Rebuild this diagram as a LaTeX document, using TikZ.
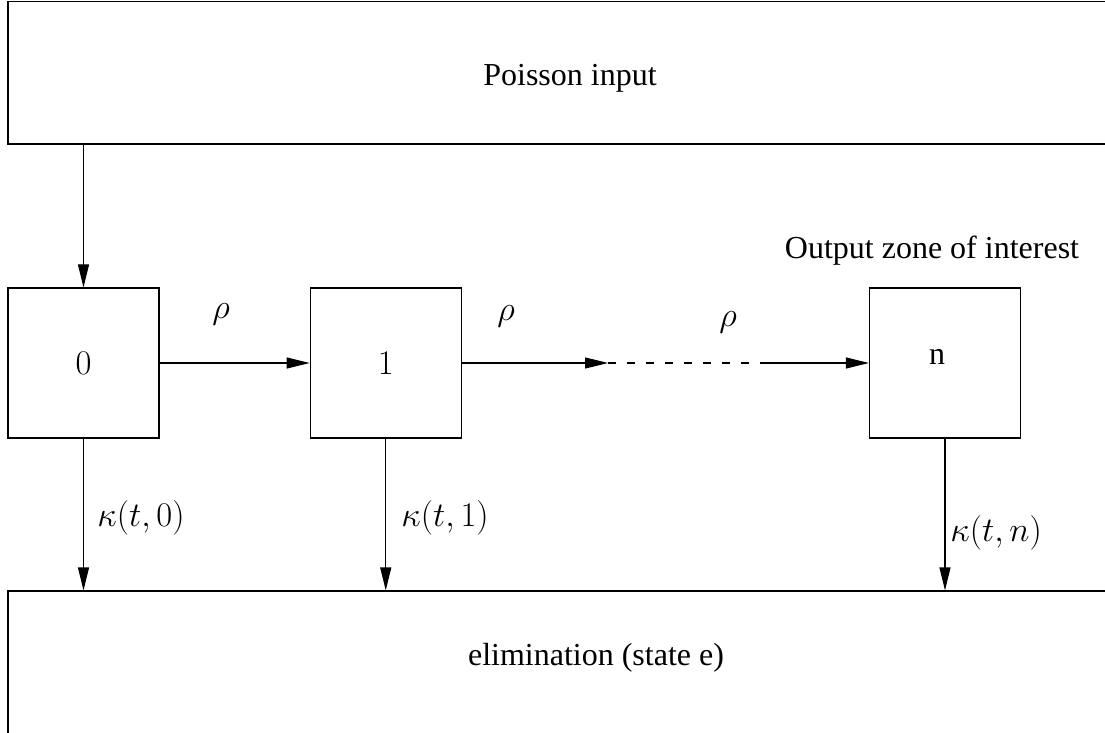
\documentclass[tikz,border=0pt]{standalone}
\usepackage[no-math]{fontspec}
\setmainfont{Liberation Serif}
\usetikzlibrary{arrows.meta}
\begin{document}
\begin{tikzpicture}[x=0.5pt,y=-0.5pt,
  every node/.style={font=\fontsize{16}{19}\selectfont},
  statebox/.style={draw, line width=0.6pt, minimum width=75.5pt, minimum height=75pt, inner sep=0pt},
  zone/.style={draw, line width=0.6pt, inner sep=0pt},
  arr/.style={line width=0.6pt, -{Triangle[length=11.5pt,width=5.5pt]}},
  dashline/.style={line width=0.6pt, dash pattern=on 4pt off 5.5pt},
  mathlbl/.style={font=\fontsize{16.5}{19}\selectfont, inner sep=0pt}]
\clip (0,0) rectangle (1105,733);
% big zones
\node[zone, minimum width=562pt, minimum height=71.25pt, text height=12.5pt, text depth=0pt] (input) at (570,72.75) {Poisson input};
\node[zone, minimum width=588pt, minimum height=84.5pt, text height=11pt, text depth=21.5pt] (elim) at (596,675.5) {elimination (state e)};
% states
\node[statebox] (s0) at (83.5,363) {$0$};
\node[statebox] (s1) at (385.75,363) {$1$};
\node[statebox, text depth=6pt] (sn) at (945,363) {n\hspace*{8pt}};
\node (zonelbl) at (932,250.6) {Output zone of interest};
% connectors
\coordinate (a) at (608,363);
\coordinate (b) at (763,363);
\draw[arr] (input.south -| s0) -- (s0.north);
\draw[arr] (s0) -- (s1);
\draw[arr] (s1) -- (a);
\draw[dashline] (a) -- (b);
\draw[arr] (b) -- (sn);
\draw[arr] (s0) -- (s0 |- elim.north);
\draw[arr] (s1) -- (s1 |- elim.north);
\draw[arr] (sn) -- (sn |- elim.north);
% labels
\node[mathlbl] (r1) at (221,314) {$\rho$};
\node[mathlbl] (r2) at (506,316) {$\rho$};
\node[mathlbl] (r3) at (728,322) {$\rho$};
\node[mathlbl, anchor=west] (k0) at (97,518) {$\kappa(t,0)$};
\node[mathlbl, anchor=west] (k1) at (401,518) {$\kappa(t,1)$};
\node[mathlbl, anchor=west] (kn) at (950,533) {$\kappa(t,n)$};
\end{tikzpicture}
\end{document}
